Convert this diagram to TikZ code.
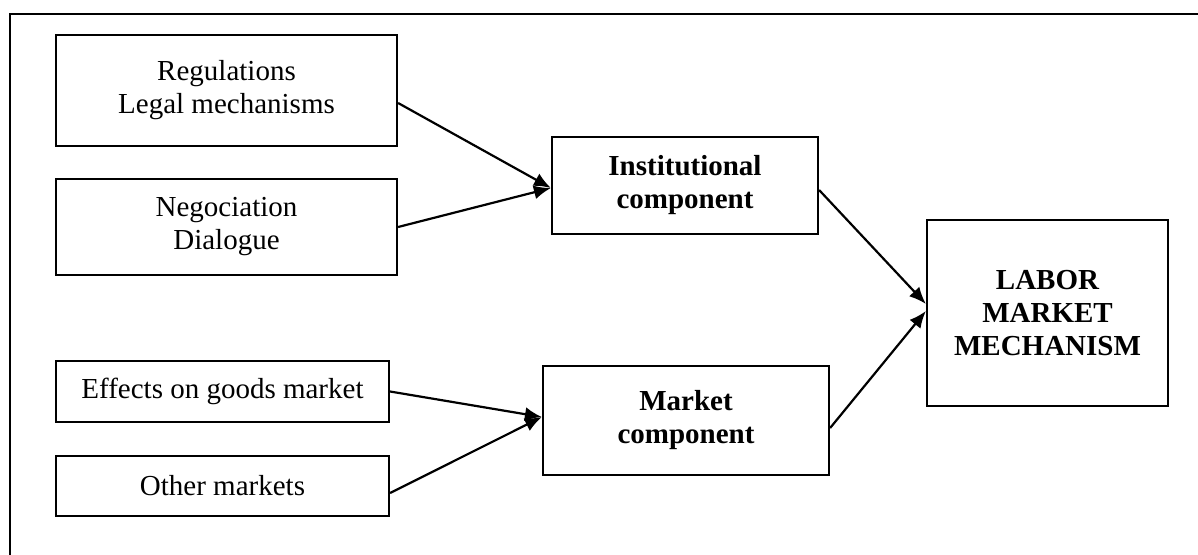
\documentclass[tikz,border=0pt]{standalone}
\usepackage{fontspec}
\setmainfont{Liberation Serif}
\usetikzlibrary{arrows.meta}
\begin{document}
\begin{tikzpicture}[x=1pt,y=-1pt,
  box/.style={draw,line width=2.2pt,inner sep=0pt,align=center,font=\fontsize{29}{33}\selectfont},
  bbox/.style={box,font=\fontsize{29}{33}\selectfont\bfseries},
  conn/.style={line width=2.2pt,-{Latex[length=17pt,width=14pt]}}]
\useasboundingbox (0,0) rectangle (1198,554);
\draw[line width=2.4pt] (10,600) -- (10,14) -- (1250,14);
\node[box,minimum width=341pt,minimum height=111pt] (reg) at (226.5,90.5) {Regulations\\Legal mechanisms};
\node[box,minimum width=341pt,minimum height=96pt] (neg) at (226.5,227) {Negociation\\Dialogue};
\node[box,minimum width=333pt,minimum height=61pt] (eff) at (222.5,391.5) {Effects on goods market};
\node[box,minimum width=333pt,minimum height=60pt] (oth) at (222.5,486) {Other markets};
\node[bbox,minimum width=266pt,minimum height=97pt] (inst) at (685,185.5) {Institutional\\component};
\node[bbox,minimum width=286pt,minimum height=109pt] (mkt) at (686,420.5) {\raisebox{6pt}{\begin{tabular}{@{}c@{}}Market\\component\end{tabular}}};
\node[bbox,minimum width=241pt,minimum height=186pt] (lab) at (1047.5,313) {LABOR\\MARKET\\MECHANISM};
\draw[conn] ([yshift=-12.5pt]reg.east) -- ([yshift=-2.5pt]inst.west);
\draw[conn] (neg.east) -- ([yshift=-2.5pt]inst.west);
\draw[conn] (eff.east) -- ([yshift=3.5pt]mkt.west);
\draw[conn] ([yshift=-7pt]oth.east) -- ([yshift=3.5pt]mkt.west);
\draw[conn] ([yshift=-4.5pt]inst.east) -- ([yshift=9pt]lab.west);
\draw[conn] ([yshift=-7.5pt]mkt.east) -- ([yshift=2pt]lab.west);
\end{tikzpicture}
\end{document}
